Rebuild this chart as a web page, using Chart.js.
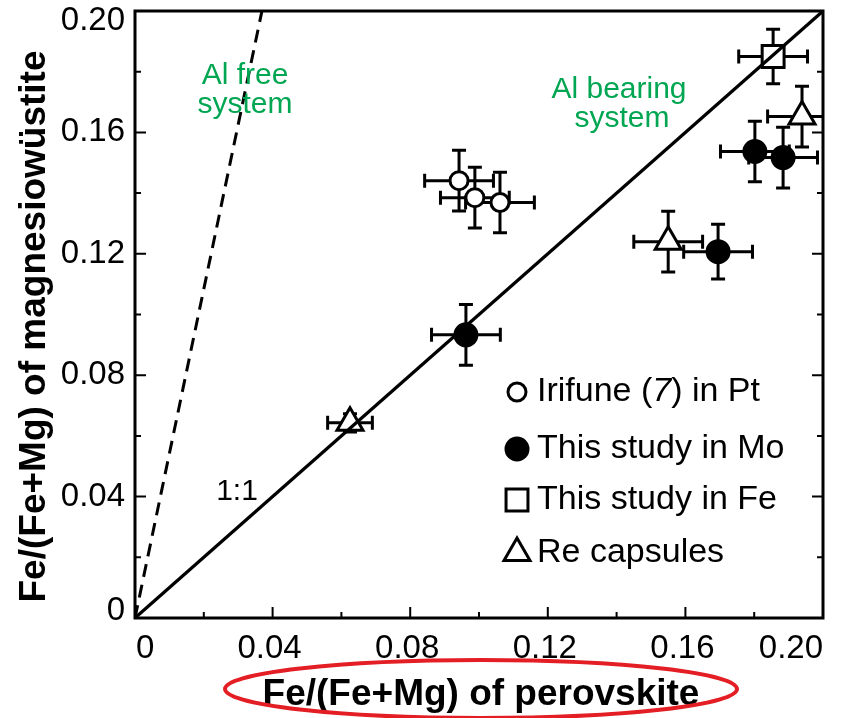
<!DOCTYPE html>
<html>
<head>
<meta charset="utf-8">
<script src="https://cdn.jsdelivr.net/npm/chart.js@4.4.1/dist/chart.umd.min.js"></script>
<style>
  html, body { margin: 0; padding: 0; background: #fff; }
  canvas { display: block; }
</style>
</head>
<body>
<canvas id="c" width="847" height="718"></canvas>
<script>
// Axis ticks and labels
const majorTicks = [0, 0.04, 0.08, 0.12, 0.16, 0.20];
const minorTicks = [0.02, 0.06, 0.10, 0.14, 0.18];
const tickLabels = ['0', '0.04', '0.08', '0.12', '0.16', '0.20'];

// Irifune (7) in Pt
const irifuneX = [0.0942, 0.0988, 0.1061];
const irifuneY = [0.1441, 0.1385, 0.1369];
const irifuneErrX = [0.010, 0.010, 0.010];
const irifuneErrY = [0.010, 0.010, 0.010];

// This study in Mo
const moX = [0.0962, 0.1695, 0.1802, 0.1884];
const moY = [0.0933, 0.1207, 0.1537, 0.1517];
const moErrX = [0.010, 0.010, 0.010, 0.010];
const moErrY = [0.010, 0.009, 0.010, 0.010];

// This study in Fe
const feX = [0.1855];
const feY = [0.1850];
const feErrX = [0.010];
const feErrY = [0.009];

// Re capsules
const reX = [0.0625, 0.1550, 0.1939];
const reY = [0.0643, 0.1240, 0.1652];
const reErrX = [0.0065, 0.010, 0.010];
const reErrY = [0.003, 0.010, 0.010];

// Reference lines
const oneToOneX = [0, 0.20];
const oneToOneY = [0, 0.20];
const alFreeX = [0, 0.0369];
const alFreeY = [0, 0.20];

const green = '#00a651';
const FONT = '"Liberation Sans", Arial, sans-serif';
const toPts = (xs, ys) => xs.map((x, i) => ({ x, y: ys[i] }));

function ds(label, xs, ys, ex, ey, style, radius, fill) {
  return {
    type: 'scatter', label, data: toPts(xs, ys), errX: ex, errY: ey,
    pointStyle: style, pointRadius: radius, pointHoverRadius: radius,
    pointBorderWidth: 3, pointBorderColor: '#000', pointBackgroundColor: fill,
    order: 1
  };
}

const datasets = [
  ds('Irifune (7) in Pt', irifuneX, irifuneY, irifuneErrX, irifuneErrY, 'circle', 9, '#fff'),
  ds('This study in Mo', moX, moY, moErrX, moErrY, 'circle', 11, '#000'),
  ds('This study in Fe', feX, feY, feErrX, feErrY, 'rect', 15.5, '#fff'),
  ds('Re capsules', reX, reY, reErrX, reErrY, 'triangle', 15, '#fff'),
  { type: 'line', label: '1:1', data: toPts(oneToOneX, oneToOneY), borderColor: '#000',
    borderWidth: 3.2, pointRadius: 0, order: 0 },
  { type: 'line', label: 'Al free', data: toPts(alFreeX, alFreeY), borderColor: '#000',
    borderWidth: 3, borderDash: [13, 8], pointRadius: 0, order: 0 }
];

function markerPath(ctx, style, x, y, r) {
  ctx.beginPath();
  if (style === 'circle') {
    ctx.arc(x, y, r, 0, Math.PI * 2);
  } else if (style === 'rect') {
    const s = Math.SQRT1_2 * r;
    ctx.rect(x - s, y - s, 2 * s, 2 * s);
  } else if (style === 'triangle') {
    let a = 0;
    ctx.moveTo(x + Math.sin(a) * r, y - Math.cos(a) * r);
    a += 2 * Math.PI / 3;
    ctx.lineTo(x + Math.sin(a) * r, y - Math.cos(a) * r);
    a += 2 * Math.PI / 3;
    ctx.lineTo(x + Math.sin(a) * r, y - Math.cos(a) * r);
    ctx.closePath();
  }
}

const decor = {
  id: 'decor',
  beforeDatasetsDraw(chart) {
    const { ctx, chartArea: a, scales: { x, y } } = chart;
    // error bars
    ctx.save();
    ctx.beginPath();
    ctx.rect(a.left, a.top, a.right - a.left, a.bottom - a.top);
    ctx.clip();
    ctx.strokeStyle = '#000';
    ctx.lineWidth = 3;
    ctx.lineCap = 'butt';
    const cap = 7;
    chart.data.datasets.forEach(d => {
      if (!d.errX) return;
      d.data.forEach((p, i) => {
        const px = x.getPixelForValue(p.x), py = y.getPixelForValue(p.y);
        const x0 = x.getPixelForValue(p.x - d.errX[i]), x1 = x.getPixelForValue(p.x + d.errX[i]);
        const y0 = y.getPixelForValue(p.y - d.errY[i]), y1 = y.getPixelForValue(p.y + d.errY[i]);
        ctx.beginPath();
        ctx.moveTo(x0, py); ctx.lineTo(x1, py);
        ctx.moveTo(x0, py - cap); ctx.lineTo(x0, py + cap);
        ctx.moveTo(x1, py - cap); ctx.lineTo(x1, py + cap);
        ctx.moveTo(px, y0); ctx.lineTo(px, y1);
        ctx.moveTo(px - cap, y0); ctx.lineTo(px + cap, y0);
        ctx.moveTo(px - cap, y1); ctx.lineTo(px + cap, y1);
        ctx.stroke();
      });
    });
    ctx.restore();
  },
  afterDatasetsDraw(chart) {
    const { ctx, chartArea: a, scales: { x, y } } = chart;
    ctx.save();
    ctx.strokeStyle = '#000';
    ctx.fillStyle = '#000';
    // frame
    ctx.lineWidth = 3;
    ctx.strokeRect(a.left, a.top, a.right - a.left, a.bottom - a.top);
    // inward ticks
    ctx.lineWidth = 2;
    ctx.beginPath();
    majorTicks.forEach(v => {
      const px = x.getPixelForValue(v), py = y.getPixelForValue(v);
      ctx.moveTo(px, a.bottom); ctx.lineTo(px, a.bottom - 11);
      ctx.moveTo(a.left, py); ctx.lineTo(a.left + 11, py);
      ctx.moveTo(a.right, py); ctx.lineTo(a.right - 11, py);
    });
    minorTicks.forEach(v => {
      const px = x.getPixelForValue(v), py = y.getPixelForValue(v);
      ctx.moveTo(px, a.bottom); ctx.lineTo(px, a.bottom - 6);
      ctx.moveTo(a.left, py); ctx.lineTo(a.left + 6, py);
      ctx.moveTo(a.right, py); ctx.lineTo(a.right - 6, py);
    });
    ctx.stroke();

    // tick labels
    ctx.font = '33px ' + FONT;
    ctx.textBaseline = 'middle';
    majorTicks.forEach((v, i) => {
      const t = tickLabels[i];
      const w = ctx.measureText(t).width;
      let px = x.getPixelForValue(v) - 3;
      px = Math.min(Math.max(px, a.left + w / 2 + 1), a.right - w / 2);
      ctx.textAlign = 'center';
      ctx.fillText(t, px, a.bottom + 31);
      let py = y.getPixelForValue(v);
      py = Math.min(Math.max(py, a.top + 10), a.bottom - 7);
      ctx.textAlign = 'right';
      ctx.fillText(t, a.left - 10, py);
    });

    // axis titles
    ctx.font = 'bold 37px ' + FONT;
    ctx.textAlign = 'center';
    ctx.fillText('Fe/(Fe+Mg) of perovskite', 481, 695);
    ctx.save();
    ctx.translate(35, (a.top + a.bottom) / 2 + 12);
    ctx.rotate(-Math.PI / 2);
    ctx.fillText('Fe/(Fe+Mg) of magnesiowüstite', 0, 0);
    ctx.restore();

    // highlight ring round the x-axis title
    ctx.strokeStyle = '#e31e24';
    ctx.lineWidth = 4;
    ctx.beginPath();
    ctx.ellipse(481, 689, 256, 29, 0, 0, Math.PI * 2);
    ctx.stroke();

    // line annotations
    ctx.fillStyle = green;
    ctx.font = '30px ' + FONT;
    ctx.textAlign = 'center';
    ctx.fillText('Al free', 245, 76);
    ctx.fillText('system', 245, 105);
    ctx.fillText('Al bearing', 619, 90);
    ctx.fillText('system', 622, 119);
    ctx.fillStyle = '#000';
    ctx.fillText('1:1', 237, 492);

    // legend
    const rows = [392, 449, 500, 553];
    const mx = 517, tx = 537;
    const lf = '34px ' + FONT;
    ctx.textAlign = 'left';
    ctx.font = lf;
    chart.data.datasets.filter(d => d.errX).forEach((d, i) => {
      const ry = rows[i];
      markerPath(ctx, d.pointStyle, mx, ry, d.pointRadius);
      ctx.fillStyle = d.pointBackgroundColor;
      ctx.fill();
      ctx.lineWidth = 3;
      ctx.strokeStyle = '#000';
      ctx.stroke();
      ctx.fillStyle = '#000';
      if (i === 0) {
        const parts = [['Irifune (', ''], ['7', 'italic '], [') in Pt', '']];
        let cx = tx;
        parts.forEach(([s, st]) => {
          ctx.font = st + lf;
          ctx.fillText(s, cx, ry);
          cx += ctx.measureText(s).width;
        });
        ctx.font = lf;
      } else {
        ctx.fillText(d.label, tx, ry);
      }
    });
    ctx.restore();
  }
};

new Chart(document.getElementById('c'), {
  data: { datasets },
  options: {
    responsive: false,
    animation: false,
    layout: { autoPadding: false, padding: { top: 11, right: 24, left: 0, bottom: 0 } },
    plugins: { legend: { display: false }, tooltip: { enabled: false } },
    scales: {
      x: {
        type: 'linear', min: 0, max: 0.20,
        grid: { display: false }, border: { display: false },
        ticks: { display: false },
        afterFit(s) { s.height = 100; }
      },
      y: {
        type: 'linear', min: 0, max: 0.20,
        grid: { display: false }, border: { display: false },
        ticks: { display: false },
        afterFit(s) { s.width = 135; }
      }
    }
  },
  plugins: [decor]
});
</script>
</body>
</html>
